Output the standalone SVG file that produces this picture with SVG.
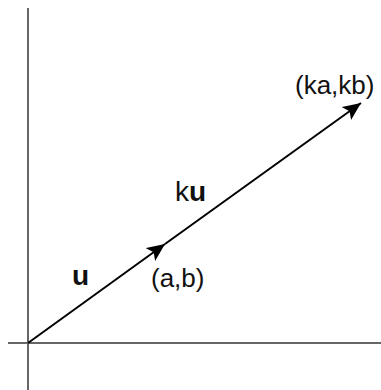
<svg xmlns="http://www.w3.org/2000/svg" width="381" height="390" viewBox="0 0 381 390">
<style>
.axis{stroke:#666;stroke-width:2;fill:none}
.vec{stroke:#000;stroke-width:2;fill:none}
.lbl{font-family:"Liberation Sans",Arial,sans-serif;font-size:26px;fill:#111}
.big{font-size:28px}
.b{font-weight:bold}
</style>
<defs>
<marker id="ah" viewBox="0 0 18 16" refX="18" refY="8" markerWidth="18" markerHeight="16" markerUnits="userSpaceOnUse" orient="auto">
<path d="M0,0 L18,8 L0,16 L4,8 Z" fill="#000"/>
</marker>
</defs>
<g id="axes">
<line class="axis" x1="28" y1="8" x2="28" y2="390"/>
<line class="axis" x1="8" y1="343" x2="381" y2="343"/>
</g>
<g id="connectors">
<line class="vec" x1="28" y1="343" x2="165" y2="244" marker-end="url(#ah)"/>
<line class="vec" x1="165" y1="244" x2="361" y2="103" marker-end="url(#ah)"/>
</g>
<g id="labels">
<text class="lbl big b" x="72" y="285">u</text>
<text class="lbl big" x="175" y="201">k<tspan class="b">u</tspan></text>
<text class="lbl" x="151" y="287">(a,b)</text>
<text class="lbl" x="295" y="94">(ka,kb)</text>
</g>
</svg>
